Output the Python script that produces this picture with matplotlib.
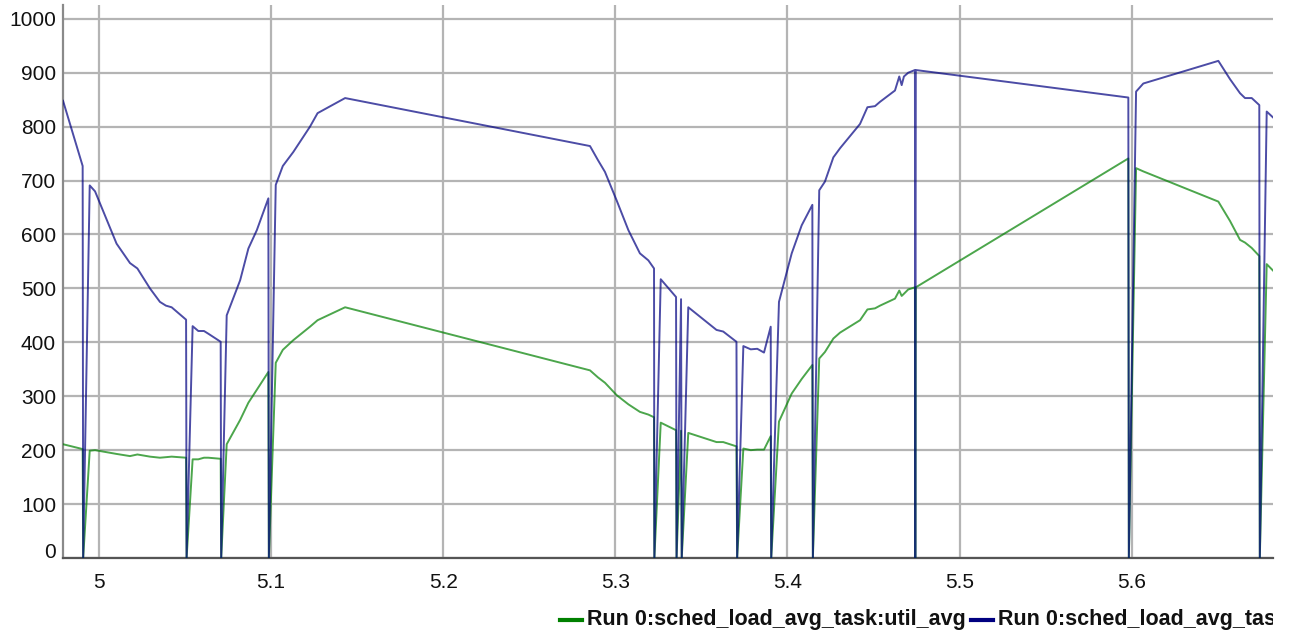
import matplotlib
matplotlib.use("Agg")
import matplotlib.pyplot as plt
from matplotlib.lines import Line2D
from matplotlib.transforms import Bbox, ScaledTranslation

# ---- data ----
time = [4.9791, 4.9905, 4.9908, 4.9946, 4.9977, 5.0102, 5.0180, 5.0223, 5.0296, 5.0354,
        5.0389, 5.0422, 5.0506, 5.0509, 5.0544, 5.0577, 5.0610, 5.0635, 5.0707, 5.0710,
        5.0742, 5.0820, 5.0868, 5.0917, 5.0984, 5.0987, 5.1027, 5.1068, 5.1129, 5.1226,
        5.1270, 5.1430, 5.2853, 5.2899, 5.2940, 5.3008, 5.3076, 5.3143, 5.3192, 5.3225,
        5.3227, 5.3264, 5.3353, 5.3356, 5.3382, 5.3386, 5.3424, 5.3588, 5.3627, 5.3704,
        5.3708, 5.3744, 5.3787, 5.3825, 5.3864, 5.3903, 5.3906, 5.3951, 5.4025, 5.4083,
        5.4145, 5.4148, 5.4185, 5.4218, 5.4267, 5.4306, 5.4422, 5.4465, 5.4509, 5.4538,
        5.4625, 5.4650, 5.4664, 5.4677, 5.4702, 5.4741, 5.4743, 5.4746, 5.5981, 5.5984,
        5.6026, 5.6068, 5.6504, 5.6572, 5.6630, 5.6659, 5.6698, 5.6742, 5.6745, 5.6785,
        5.6822]

load_avg = [848, 727, 0, 691, 680, 583, 547, 537, 500, 475,
            468, 465, 442, 0, 430, 421, 421, 416, 401, 0,
            450, 515, 574, 608, 667, 0, 692, 727, 753, 800,
            825, 853, 764, 738, 716, 663, 608, 565, 552, 537,
            0, 517, 484, 0, 480, 0, 465, 423, 420, 401,
            0, 393, 387, 388, 381, 429, 0, 475, 565, 617,
            655, 0, 682, 698, 743, 760, 805, 836, 838, 846,
            867, 893, 877, 893, 900, 905, 0, 905, 854, 0,
            865, 880, 922, 888, 862, 853, 853, 840, 0, 828,
            817]

util_avg = [211, 202, 0, 199, 200, 193, 189, 192, 188, 186,
            187, 188, 186, 0, 183, 183, 186, 186, 184, 0,
            211, 256, 288, 312, 345, 0, 362, 386, 404, 429,
            441, 465, 348, 335, 325, 302, 285, 271, 266, 261,
            0, 251, 237, 0, 236, 0, 232, 215, 215, 207,
            0, 203, 200, 201, 201, 226, 0, 253, 305, 332,
            358, 0, 370, 382, 407, 418, 441, 461, 463, 468,
            481, 496, 486, 490, 498, 502, 0, 502, 741, 0,
            723, 717, 661, 625, 590, 585, 575, 560, 0, 545,
            533]

series_labels = ["Run 0:sched_load_avg_task:util_avg",
                 "Run 0:sched_load_avg_task:load_avg"]
series_colors = ["#008000", "#000080"]

x_ticks = [5.0, 5.1, 5.2, 5.3, 5.4, 5.5, 5.6]
x_tick_labels = ["5", "5.1", "5.2", "5.3", "5.4", "5.5", "5.6"]
y_ticks = [0, 100, 200, 300, 400, 500, 600, 700, 800, 900, 1000]

# ---- figure ----
plt.rcParams['font.family'] = ['Liberation Sans', 'DejaVu Sans']
W, H = 1293, 637
fig = plt.figure(figsize=(W / 100, H / 100), dpi=100)
ax = fig.add_axes([63 / W, 1 - 558 / H, (1273 - 63) / W, (558 - 5) / H])

ax.plot(time, util_avg, color=series_colors[0], lw=1.4, alpha=0.7, zorder=3)
ax.plot(time, load_avg, color=series_colors[1], lw=1.4, alpha=0.7, zorder=4)

ax.set_xlim(4.97908, 5.68216)
ax.set_ylim(0, 1025.6)
ax.set_xticks(x_ticks)
ax.set_xticklabels(x_tick_labels)
ax.set_yticks(y_ticks)
ax.set_yticklabels([str(v) for v in y_ticks])

ax.grid(True, color="#b4b4b4", lw=1.6, zorder=0)
ax.set_axisbelow(True)
for s in ["top", "right"]:
    ax.spines[s].set_visible(False)
ax.spines["left"].set_color("#8a8a8a")
ax.spines["left"].set_linewidth(1.6)
ax.spines["bottom"].set_color("#555555")
ax.spines["bottom"].set_linewidth(1.6)

ax.tick_params(axis="both", length=0, labelsize=15, colors="#111111")
ax.tick_params(axis="x", pad=11)
ax.tick_params(axis="y", pad=5)

# lift the "0" label a little like the reference
lbl0 = ax.get_yticklabels()[0]
lbl0.set_transform(lbl0.get_transform() + ScaledTranslation(0, 8 / 100, fig.dpi_scale_trans))

# ---- legend (bottom, clipped at right like the reference) ----
clip = Bbox.from_extents(0, 0, 1273, H)
leg_y = 1 - 620 / H
handle_x = [(560, 582), (971, 993)]
text_x = [587, 998]
for i in range(2):
    ln = Line2D([handle_x[i][0] / W, handle_x[i][1] / W], [leg_y, leg_y],
                transform=fig.transFigure, color=series_colors[i], lw=3)
    fig.add_artist(ln)
    t = fig.text(text_x[i] / W, leg_y, series_labels[i], fontsize=15.5,
                 fontweight="bold", va="center", ha="left", color="#111111")
    t.set_clip_box(clip)
    t.set_clip_on(True)

fig.savefig("out.png", dpi=100)
